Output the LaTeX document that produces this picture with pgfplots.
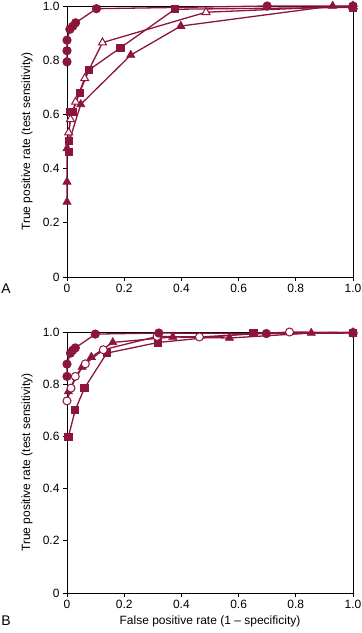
\documentclass[border=0pt]{standalone}
\usepackage{fontspec}
\setmainfont{Liberation Sans}
\usepackage{pgfplots}
\pgfplotsset{compat=1.18}
\definecolor{roc}{RGB}{140,22,58}
\begin{document}
\begin{tikzpicture}[x=1pt,y=1pt]
\useasboundingbox (0,0) rectangle (362,633);
\pgfplotsset{
 rocaxis/.style={
  scale only axis, width=286pt,
  xmin=0,xmax=1,ymin=0,ymax=1, clip=false,
  axis line style={line width=0.9pt},
  tick align=outside, xtick pos=bottom, ytick pos=left,
  major tick length=4pt, tick style={line width=0.9pt,black},
  xtick={0,0.2,0.4,0.6,0.8,1}, ytick={0,0.2,0.4,0.6,0.8,1},
  xticklabels={0,0.2,0.4,0.6,0.8,1.0}, yticklabels={0,0.2,0.4,0.6,0.8,1.0},
  tick label style={font=\fontsize{12}{14}\selectfont},
  label style={font=\fontsize{12}{14}\selectfont},
  ylabel={True positive rate (test sensitivity)},
  ylabel style={at={(axis description cs:-0.14,0.5)}, anchor=center},
  every axis plot/.append style={roc, line width=1.3pt},
 },
 fcirc/.style={mark=*, mark size=4.2pt, mark options={fill=roc,draw=roc,solid,line width=0.8pt}},
 ocirc/.style={mark=*, mark size=4.0pt, mark options={fill=white,draw=roc,solid,line width=1pt}},
 fsq/.style={mark=square*, mark size=3.6pt, mark options={fill=roc,draw=roc,solid,line width=0.8pt}},
 ftri/.style={mark=triangle*, mark size=4.6pt, mark options={fill=roc,draw=roc,solid,line width=0.8pt}},
 otri/.style={mark=triangle*, mark size=4.6pt, mark options={fill=white,draw=roc,solid,line width=1pt}},
}
% Panel A
\begin{axis}[rocaxis, height=271pt, at={(67pt,356pt)}, anchor=south west]
\addplot[ftri] coordinates {(0,0.277) (0,0.351) (0,0.474) (0.048,0.637) (0.223,0.819) (0.398,0.926) (0.929,1.0) (1.0,0.995)};
\addplot[fsq] coordinates {(0.006,0.462) (0.006,0.502) (0.012,0.61) (0.02,0.61) (0.044,0.68) (0.077,0.764) (0.187,0.846) (0.377,0.988) (1.0,0.995)};
\addplot[otri] coordinates {(0.006,0.533) (0.012,0.582) (0.03,0.646) (0.062,0.733) (0.124,0.865) (0.486,0.977) (1.0,1.0)};
\addplot[fcirc] coordinates {(0,0.794) (0,0.835) (0,0.874) (0.01,0.914) (0.02,0.925) (0.03,0.938) (0.103,0.99) (0.70,1.0) (1.0,1.0)};
\node[font=\fontsize{14}{16}\selectfont] at (rel axis cs:-0.213,-0.044) {A};
\end{axis}
% Panel B
\begin{axis}[rocaxis, height=261pt, at={(67pt,40pt)}, anchor=south west,
  xlabel={False positive rate (1 – specificity)}]
\addplot[fsq] coordinates {(0.005,0.599) (0.029,0.702) (0.061,0.785) (0.139,0.919) (0.319,0.96) (0.652,0.996) (1.0,0.998)};
\addplot[ftri] coordinates {(0.005,0.772) (0.053,0.866) (0.085,0.904) (0.16,0.96) (0.37,0.981) (0.568,0.977) (0.854,0.996) (1.0,0.998)};
\addplot[ocirc] coordinates {(0,0.736) (0.014,0.785) (0.029,0.830) (0.064,0.878) (0.127,0.932) (0.315,0.983) (0.463,0.981) (0.778,1.0) (1.0,0.998)};
\addplot[fcirc] coordinates {(0,0.830) (0,0.877) (0.012,0.919) (0.02,0.93) (0.029,0.939) (0.099,0.992) (0.321,0.996) (0.697,0.994) (1.0,0.996)};
\node[font=\fontsize{14}{16}\selectfont] at (rel axis cs:-0.213,-0.105) {B};
\end{axis}
\end{tikzpicture}
\end{document}
